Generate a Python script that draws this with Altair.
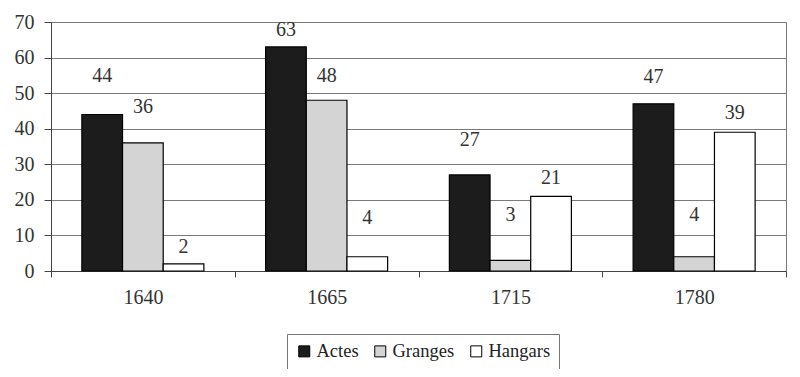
import altair as alt
import pandas as pd

years = ["1640", "1665", "1715", "1780"]
series = ["Actes", "Granges", "Hangars"]
actes = [44, 63, 27, 47]
granges = [36, 48, 3, 4]
hangars = [2, 4, 21, 39]
# label anchor heights (data units) as placed in the original
label_actes = [54.7, 67.7, 36.8, 54.4]
label_granges = [46.0, 54.7, 15.7, 15.7]
label_hangars = [6.8, 14.8, 26.1, 44.3]
colors = ["#1c1c1c", "#d4d4d4", "#ffffff"]
y_ticks = [0, 10, 20, 30, 40, 50, 60, 70]

rows = []
for s, vals, labs in zip(series, [actes, granges, hangars],
                         [label_actes, label_granges, label_hangars]):
    for y, v, l in zip(years, vals, labs):
        rows.append({"year": y, "serie": s, "value": v, "label_y": l})
df = pd.DataFrame(rows)

FONT = "Liberation Serif"

x_axis = alt.Axis(labelAngle=0, tickBand="extent", tickSize=6,
                  labelPadding=10, labelFontSize=20, labelFont=FONT,
                  labelColor="#333", domainColor="#444",
                  tickColor="#444", grid=False)
y_axis = alt.Axis(values=y_ticks, tickSize=7, labelOverlap=False,
                  labelPadding=10, labelFontSize=20, labelFont=FONT,
                  labelColor="#333", domainColor="#444",
                  tickColor="#444", gridColor="#7a7a7a", gridWidth=1)
xscale = alt.Scale(paddingInner=0, paddingOuter=0)
xoff_scale = alt.Scale(paddingInner=0, paddingOuter=0.759)
yscale = alt.Scale(domain=[0, 70], nice=False)

bars = alt.Chart(df).mark_bar(stroke="black", strokeWidth=1.2).encode(
    x=alt.X("year:N", sort=years, title=None, scale=xscale, axis=x_axis),
    xOffset=alt.XOffset("serie:N", sort=series, scale=xoff_scale),
    y=alt.Y("value:Q", scale=yscale, title=None, axis=y_axis),
    color=alt.Color("serie:N", sort=series,
                    scale=alt.Scale(domain=series, range=colors),
                    legend=alt.Legend(title=None, orient="none",
                                      direction="horizontal",
                                      legendX=236, legendY=312,
                                      symbolType="square", symbolSize=121,
                                      symbolStrokeColor="black",
                                      symbolStrokeWidth=1,
                                      labelFont=FONT, labelFontSize=18.5,
                                      labelColor="#222", labelOffset=3,
                                      columnPadding=12, padding=8,
                                      strokeColor="#777",
                                      fillColor="white")),
)

labels = alt.Chart(df).mark_text(font=FONT, fontSize=20, color="#333",
                                 baseline="middle").encode(
    x=alt.X("year:N", sort=years, title=None, scale=xscale, axis=x_axis),
    xOffset=alt.XOffset("serie:N", sort=series, scale=xoff_scale),
    y=alt.Y("label_y:Q", scale=yscale, title=None, axis=y_axis),
    text=alt.Text("value:Q"),
)

chart = alt.layer(bars, labels).properties(
    width=735, height=249,
    autosize=alt.AutoSizeParams(type="none"),
    padding={"left": 43, "top": 14, "right": 6, "bottom": 98},
).configure_view(stroke="#7a7a7a", strokeWidth=1)

chart.save("out.html", embed_options={"renderer": "svg", "actions": False})
